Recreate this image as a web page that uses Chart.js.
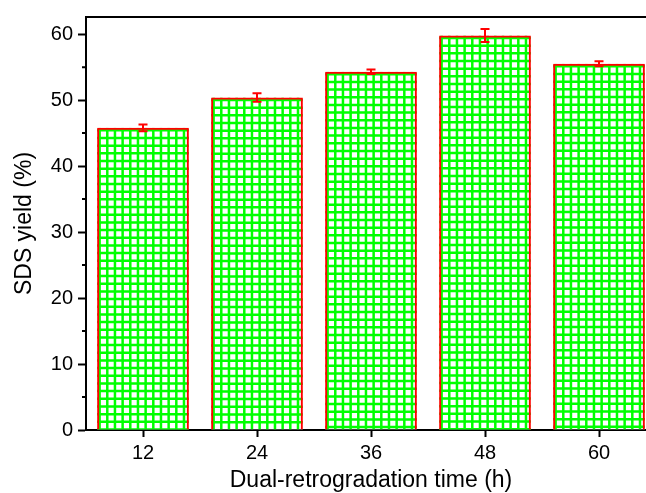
<!DOCTYPE html>
<html>
<head>
<meta charset="utf-8">
<script src="https://cdn.jsdelivr.net/npm/chart.js@4"></script>
<style>
  html, body { margin: 0; padding: 0; background: #fff; overflow: hidden; width: 646px; height: 493px; }
  canvas { display: block; }
</style>
</head>
<body>
<canvas id="c" width="660" height="493"></canvas>
<script>
const categories = ['12', '24', '36', '48', '60'];
const sdsYield = [45.8, 50.4, 54.3, 59.8, 55.5];
const sdsError = [0.5, 0.65, 0.35, 1.0, 0.38];
const yTicks = [0, 10, 20, 30, 40, 50, 60];

const FONT = '"Liberation Sans", Arial, sans-serif';

const hatchPlugin = {
  id: 'hatch',
  beforeDatasetsDraw(chart) {
    const ctx = chart.ctx;
    const meta = chart.getDatasetMeta(0);
    const cell = 7.67;
    meta.data.forEach(bar => {
      const left = bar.x - bar.width / 2;
      const right = bar.x + bar.width / 2;
      const top = Math.min(bar.y, bar.base);
      const bottom = Math.max(bar.y, bar.base);
      ctx.save();
      ctx.beginPath();
      ctx.rect(left, top, right - left, bottom - top);
      ctx.clip();
      ctx.fillStyle = '#ffffff';
      ctx.fillRect(left, top, right - left, bottom - top);
      ctx.strokeStyle = '#00ff00';
      ctx.lineWidth = 2.5;
      ctx.beginPath();
      for (let x = left + 2.5; x < right; x += cell) {
        ctx.moveTo(x, top); ctx.lineTo(x, bottom);
      }
      for (let y = top + 2.5; y < bottom; y += cell) {
        ctx.moveTo(left, y); ctx.lineTo(right, y);
      }
      ctx.stroke();
      ctx.restore();
    });
  }
};

const errorPlugin = {
  id: 'errbars',
  afterDatasetsDraw(chart) {
    const ctx = chart.ctx;
    const meta = chart.getDatasetMeta(0);
    const ys = chart.scales.y;
    ctx.save();
    ctx.strokeStyle = '#ff0000';
    ctx.lineWidth = 2;
    meta.data.forEach((bar, i) => {
      const v = sdsYield[i], e = sdsError[i];
      const yTop = ys.getPixelForValue(v + e);
      const yBot = ys.getPixelForValue(v - e);
      const x = bar.x, cap = 4.5;
      ctx.beginPath();
      ctx.moveTo(x, yTop); ctx.lineTo(x, yBot);
      ctx.moveTo(x - cap, yTop); ctx.lineTo(x + cap, yTop);
      ctx.moveTo(x - cap, yBot); ctx.lineTo(x + cap, yBot);
      ctx.stroke();
    });
    ctx.restore();
  }
};

const framePlugin = {
  id: 'frame',
  afterDraw(chart) {
    const ctx = chart.ctx;
    const a = chart.chartArea;
    const ys = chart.scales.y;
    ctx.save();
    ctx.strokeStyle = '#000';
    ctx.lineWidth = 2;
    ctx.beginPath();
    ctx.moveTo(a.left - 1, a.top);
    ctx.lineTo(chart.width, a.top);
    ctx.stroke();
    // minor ticks on y axis
    ctx.beginPath();
    for (let v = 5; v < 62; v += 10) {
      const y = ys.getPixelForValue(v);
      ctx.moveTo(a.left, y); ctx.lineTo(a.left - 4, y);
    }
    ctx.stroke();
    ctx.restore();
  }
};

new Chart(document.getElementById('c'), {
  type: 'bar',
  data: {
    labels: categories,
    datasets: [{
      data: sdsYield,
      backgroundColor: 'rgba(0,0,0,0)',
      borderColor: '#ff0000',
      borderWidth: 2,
      borderSkipped: 'start',
      categoryPercentage: 1,
      barPercentage: 0.805
    }]
  },
  options: {
    responsive: false,
    animation: false,
    events: [],
    layout: { padding: { top: 15, right: 4, left: 0, bottom: 0 } },
    plugins: { legend: { display: false }, tooltip: { enabled: false } },
    scales: {
      x: {
        afterFit(scale) { scale.height = 63; },
        grid: {
          offset: false,
          drawOnChartArea: false,
          drawTicks: true,
          tickLength: 7,
          tickWidth: 2,
          tickColor: '#000'
        },
        border: { display: true, color: '#000', width: 2 },
        ticks: {
          color: '#000',
          font: { family: FONT, size: 20 },
          padding: 4,
          maxRotation: 0
        },
        title: {
          display: true,
          text: 'Dual-retrogradation time (h)',
          color: '#000',
          font: { family: FONT, size: 23, lineHeight: 1.1 },
          padding: { top: 0, bottom: 0 }
        }
      },
      y: {
        min: 0,
        max: 62.6,
        afterFit(scale) { scale.width = 86; },
        afterBuildTicks(scale) {
          scale.ticks = yTicks.map(v => ({ value: v }));
        },
        grid: {
          drawOnChartArea: false,
          drawTicks: true,
          tickLength: 8,
          tickWidth: 2,
          tickColor: '#000'
        },
        border: { display: true, color: '#000', width: 2 },
        ticks: {
          color: '#000',
          font: { family: FONT, size: 20 },
          padding: 5
        },
        title: {
          display: true,
          text: 'SDS yield (%)',
          color: '#000',
          font: { family: FONT, size: 23 },
          padding: { top: 11, bottom: 0 }
        }
      }
    }
  },
  plugins: [hatchPlugin, errorPlugin, framePlugin]
});
</script>
</body>
</html>
